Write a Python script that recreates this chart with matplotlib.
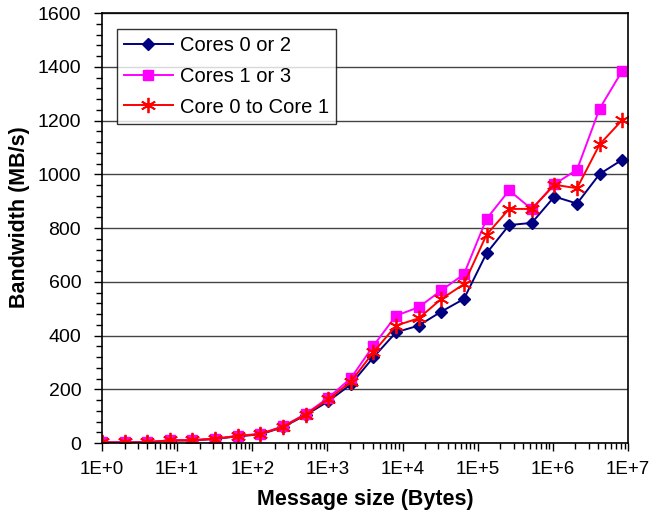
import numpy as np
import matplotlib
matplotlib.use("Agg")
import matplotlib.pyplot as plt
from matplotlib.ticker import FixedLocator, LogLocator, NullFormatter, MultipleLocator

plt.rcParams['font.family'] = ['Liberation Sans', 'DejaVu Sans']

# message sizes, 1 byte to 8 MB (powers of two)
sizes = [2 ** k for k in range(24)]

# bandwidth in MB/s
cores_0_2 = [2, 2, 3, 9, 10, 15, 25, 32, 59, 104, 155, 218, 319, 412, 437, 489,
             536, 706, 811, 819, 917, 891, 1001, 1054]
cores_1_3 = [2, 3, 3, 10, 11, 16, 27, 34, 62, 108, 168, 241, 362, 474, 505, 568,
             628, 834, 940, 870, 963, 1017, 1244, 1385]
core_0_to_1 = [2, 2, 3, 10, 10, 16, 26, 33, 61, 106, 162, 228, 338, 437, 464, 536,
               591, 775, 871, 871, 961, 948, 1111, 1202]

x_ticks = [10 ** i for i in range(8)]
x_labels = ["1E+%d" % i for i in range(8)]

fig = plt.figure(figsize=(6.53, 5.14), dpi=100)
ax = fig.add_axes([0.1562, 0.1381, 0.8055, 0.8366])

ax.plot(sizes, cores_0_2, color='#000080', marker='D', markersize=6.5,
        linewidth=1.4, label='Cores 0 or 2')
ax.plot(sizes, cores_1_3, color='#FF00FF', marker='s', markersize=7.5,
        linewidth=1.4, label='Cores 1 or 3')
ax.plot(sizes, core_0_to_1, color='#FF0000', marker=(6, 2, 0), markersize=11,
        markeredgewidth=1.3, linewidth=1.4, label='Core 0 to Core 1')

ax.set_xscale('log')
ax.set_xlim(1, 1e7)
ax.set_ylim(0, 1600)
ax.xaxis.set_major_locator(FixedLocator(x_ticks))
ax.set_xticklabels(x_labels)
ax.xaxis.set_minor_locator(LogLocator(base=10, subs=np.arange(2, 10)))
ax.xaxis.set_minor_formatter(NullFormatter())
ax.yaxis.set_major_locator(MultipleLocator(200))
ax.yaxis.set_minor_locator(MultipleLocator(40))

ax.tick_params(which='major', length=6, width=1, color='black')
ax.tick_params(which='minor', length=4, width=1, color='black')
ax.tick_params(axis='x', which='major', labelsize=13.5, pad=7)
ax.tick_params(axis='y', which='major', labelsize=14, pad=9)
ax.grid(axis='y', which='major', color='#444444', linewidth=1)
ax.set_axisbelow(True)
for s in ax.spines.values():
    s.set_linewidth(1.2)

ax.set_xlabel('Message size (Bytes)', fontsize=15.5, fontweight='bold', labelpad=8)
ax.set_ylabel('Bandwidth (MB/s)', fontsize=15.5, fontweight='bold')
ax.yaxis.set_label_coords(-0.137, 0.526)

leg = ax.legend(loc='upper left', bbox_to_anchor=(0.0285, 0.963), fontsize=14.5,
                frameon=True, fancybox=False, handlelength=2.4,
                handletextpad=0.35, borderpad=0.36, labelspacing=0.58,
                borderaxespad=0)
leg.get_frame().set_edgecolor('black')
leg.get_frame().set_linewidth(1)

fig.savefig('out.png', dpi=100)
